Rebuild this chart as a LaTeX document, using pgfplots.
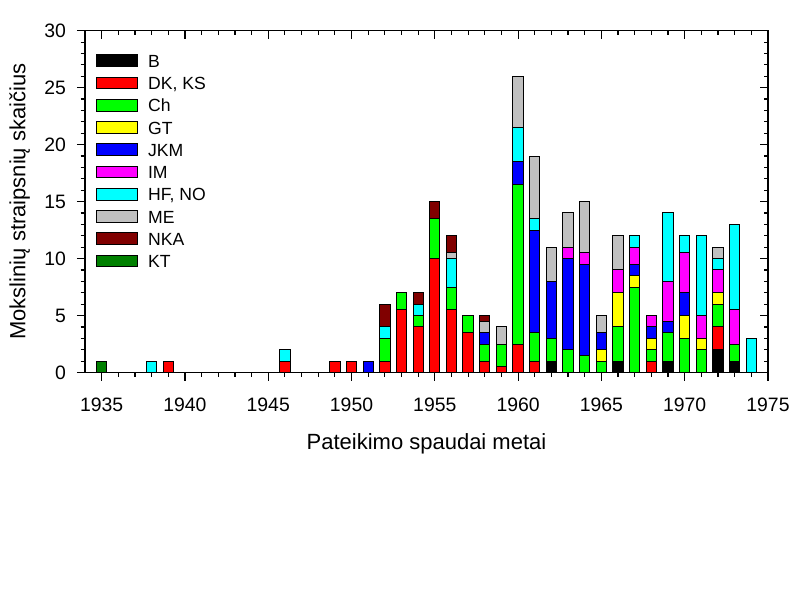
\documentclass[border=0pt]{standalone}
\usepackage{fontspec}
\setmainfont{Liberation Sans}
\usepackage{pgfplots}
\usepackage{pgfplotstable}
\pgfplotsset{compat=1.18}

\definecolor{cB}{RGB}{0,0,0}
\definecolor{cDK}{RGB}{255,0,0}
\definecolor{cCh}{RGB}{0,255,0}
\definecolor{cGT}{RGB}{255,255,0}
\definecolor{cJKM}{RGB}{0,0,255}
\definecolor{cIM}{RGB}{255,0,255}
\definecolor{cHF}{RGB}{0,255,255}
\definecolor{cME}{RGB}{192,192,192}
\definecolor{cNKA}{RGB}{128,0,0}
\definecolor{cKT}{RGB}{0,128,0}

% articles per year, stacked by author group
\pgfplotstableread{
year B  DK  Ch  GT JKM IM  HF  ME  NKA KT
1935 0 0   0   0  0   0   0   0   0   1
1938 0 0   0   0  0   0   1   0   0   0
1939 0 1   0   0  0   0   0   0   0   0
1946 0 1   0   0  0   0   1   0   0   0
1949 0 1   0   0  0   0   0   0   0   0
1950 0 1   0   0  0   0   0   0   0   0
1951 0 0   0   0  1   0   0   0   0   0
1952 0 1   2   0  0   0   1   0   2   0
1953 0 5.5 1.5 0  0   0   0   0   0   0
1954 0 4   1   0  0   0   1   0   1   0
1955 0 10  3.5 0  0   0   0   0   1.5 0
1956 0 5.5 2   0  0   0   2.5 0.5 1.5 0
1957 0 3.5 1.5 0  0   0   0   0   0   0
1958 0 1   1.5 0  1   0   0   1   0.5 0
1959 0 0.5 2   0  0   0   0   1.5 0   0
1960 0 2.5 14  0  2   0   3   4.5 0   0
1961 0 1   2.5 0  9   0   1   5.5 0   0
1962 1 0   2   0  5   0   0   3   0   0
1963 0 0   2   0  8   1   0   3   0   0
1964 0 0   1.5 0  8   1   0   4.5 0   0
1965 0 0   1   1  1.5 0   0   1.5 0   0
1966 1 0   3   3  0   2   0   3   0   0
1967 0 0   7.5 1  1   1.5 1   0   0   0
1968 0 1   1   1  1   1   0   0   0   0
1969 1 0   2.5 0  1   3.5 6   0   0   0
1970 0 0   3   2  2   3.5 1.5 0   0   0
1971 0 0   2   1  0   2   7   0   0   0
1972 2 2   2   1  0   2   1   1   0   0
1973 1 0   1.5 0  0   3   7.5 0   0   0
1974 0 0   0   0  0   0   3   0   0   0
}\pubs

\pgfplotsset{
  frame/.style={
    at={(0,0)}, anchor=south west,
    width=341.5pt, height=170.9pt, scale only axis,
    xmin=1934, xmax=1975, ymin=0, ymax=30,
    xtick={1935,1940,...,1975}, minor x tick num=4,
    ytick={0,5,...,30}, minor y tick num=4,
    major tick length=4pt, minor tick length=2.2pt,
    tick style={black, line width=0.6pt},
    axis line style={line width=0.7pt},
  },
  legbox/.style={legend image code/.code={%
    \draw[##1] (0pt,-2.1pt) rectangle (20.5pt,3.75pt);}},
}

\begin{document}
\begin{tikzpicture}
\path[use as bounding box] (-42.5pt,-108.75pt) rectangle (357.5pt,186.25pt);

\begin{axis}[
  frame,
  xtick pos=left, ytick pos=left, tick align=outside,
  ybar stacked, bar width=0.62,
  /pgf/number format/1000 sep={},
  /pgf/number format/assume math mode=true,
  tick label style={font=\fontsize{9.7}{11}\selectfont},
  xticklabel style={yshift=-5pt},
  yticklabel style={xshift=-2pt},
  xlabel={Pateikimo spaudai metai},
  ylabel={Mokslinių straipsnių skaičius},
  every axis x label/.style={at={(rel axis cs:0.5,0)}, yshift=-35.75pt, anchor=center,
    font=\fontsize{11}{13}\selectfont},
  every axis y label/.style={at={(rel axis cs:0,0.5)}, xshift=-32.65pt, rotate=90, anchor=center,
    font=\fontsize{11}{13}\selectfont},
  legend cell align=left,
  legend style={at={(rel axis cs:0,1)}, anchor=north west, xshift=5.35pt, yshift=-11.6pt,
    draw=none, fill=none, inner sep=0pt, row sep=3.13pt, column sep=5pt,
    font=\fontsize{8.8}{10}\selectfont,
    nodes={inner sep=0pt, text height=6.5pt, text depth=1.5pt}},
]
\addplot[fill=cB,   draw=black, line width=0.5pt, legbox] table[x=year, y=B]   {\pubs};
\addplot[fill=cDK,  draw=black, line width=0.5pt, legbox] table[x=year, y=DK]  {\pubs};
\addplot[fill=cCh,  draw=black, line width=0.5pt, legbox] table[x=year, y=Ch]  {\pubs};
\addplot[fill=cGT,  draw=black, line width=0.5pt, legbox] table[x=year, y=GT]  {\pubs};
\addplot[fill=cJKM, draw=black, line width=0.5pt, legbox] table[x=year, y=JKM] {\pubs};
\addplot[fill=cIM,  draw=black, line width=0.5pt, legbox] table[x=year, y=IM]  {\pubs};
\addplot[fill=cHF,  draw=black, line width=0.5pt, legbox] table[x=year, y=HF]  {\pubs};
\addplot[fill=cME,  draw=black, line width=0.5pt, legbox] table[x=year, y=ME]  {\pubs};
\addplot[fill=cNKA, draw=black, line width=0.5pt, legbox] table[x=year, y=NKA] {\pubs};
\addplot[fill=cKT,  draw=black, line width=0.5pt, legbox] table[x=year, y=KT]  {\pubs};
\legend{B, {DK, KS}, Ch, GT, JKM, IM, {HF, NO}, ME, NKA, KT}
\end{axis}

% inward ticks on the top and right edges
\begin{axis}[
  frame,
  xtick pos=right, ytick pos=right, tick align=inside,
  xticklabels={}, yticklabels={},
]
\end{axis}
\end{tikzpicture}
\end{document}
